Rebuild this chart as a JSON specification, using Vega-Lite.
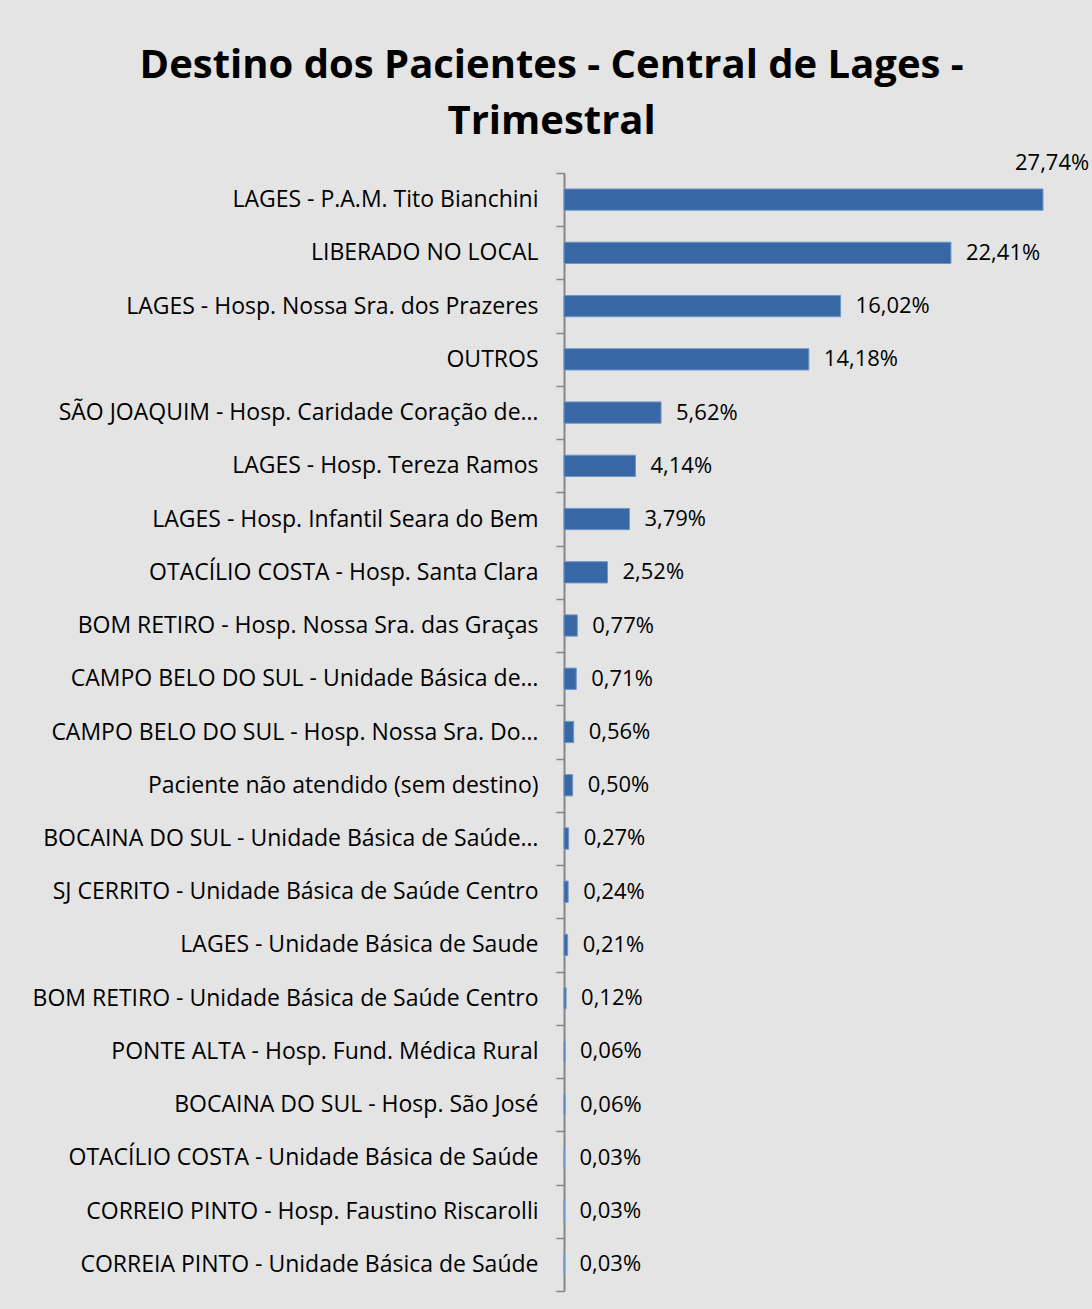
{
  "$schema": "https://vega.github.io/schema/vega-lite/v6.json",
  "width": 518,
  "height": 1118,
  "autosize": {"type": "none"},
  "padding": {"left": 564, "top": 173, "right": 10, "bottom": 18},
  "background": "#e4e4e4",
  "config": {
    "locale": {"number": {"decimal": ",", "thousands": ".", "grouping": [3], "currency": ["R$", ""]}},
    "view": {"stroke": null},
    "font": "Open Sans"
  },
  "title": {
    "text": ["Destino dos Pacientes - Central de Lages -", "Trimestral"],
    "fontSize": 40,
    "fontWeight": "bold",
    "font": "Open Sans",
    "color": "#000000",
    "lineHeight": 56,
    "anchor": "middle",
    "frame": "bounds",
    "offset": 10,
    "dx": -9
  },
  "data": {
    "values": [
      {"destino": "LAGES - P.A.M. Tito Bianchini", "pct": 0.2774},
      {"destino": "LIBERADO NO LOCAL", "pct": 0.2241},
      {"destino": "LAGES - Hosp. Nossa Sra. dos Prazeres", "pct": 0.1602},
      {"destino": "OUTROS", "pct": 0.1418},
      {"destino": "SÃO JOAQUIM - Hosp. Caridade Coração de…", "pct": 0.0562},
      {"destino": "LAGES - Hosp.  Tereza Ramos", "pct": 0.0414},
      {"destino": "LAGES - Hosp. Infantil Seara do Bem", "pct": 0.0379},
      {"destino": "OTACÍLIO COSTA - Hosp. Santa Clara", "pct": 0.0252},
      {"destino": "BOM RETIRO - Hosp. Nossa Sra. das Graças", "pct": 0.0077},
      {"destino": "CAMPO BELO DO SUL - Unidade Básica de…", "pct": 0.0071},
      {"destino": "CAMPO BELO DO SUL - Hosp. Nossa Sra. Do…", "pct": 0.0056},
      {"destino": "Paciente não atendido (sem destino)", "pct": 0.0050},
      {"destino": "BOCAINA DO SUL - Unidade Básica de Saúde…", "pct": 0.0027},
      {"destino": "SJ CERRITO - Unidade Básica de Saúde Centro", "pct": 0.0024},
      {"destino": "LAGES - Unidade Básica de Saude", "pct": 0.0021},
      {"destino": "BOM RETIRO - Unidade Básica de Saúde Centro", "pct": 0.0012},
      {"destino": "PONTE ALTA - Hosp. Fund. Médica Rural", "pct": 0.0006},
      {"destino": "BOCAINA DO SUL - Hosp. São José", "pct": 0.0006},
      {"destino": "OTACÍLIO COSTA - Unidade Básica de Saúde", "pct": 0.0003},
      {"destino": "CORREIO PINTO - Hosp. Faustino Riscarolli", "pct": 0.0003},
      {"destino": "CORREIA PINTO - Unidade Básica de Saúde", "pct": 0.0003}
    ]
  },
  "encoding": {
    "y": {
      "field": "destino",
      "type": "nominal",
      "sort": null,
      "scale": {"paddingInner": 0, "paddingOuter": 0},
      "axis": {
        "title": null,
        "domainColor": "#868686",
        "domainWidth": 2,
        "tickColor": "#868686",
        "tickWidth": 1.5,
        "tickSize": 8,
        "tickBand": "extent",
        "labelFont": "Open Sans",
        "labelFontSize": 23,
        "labelColor": "#000000",
        "labelPadding": 18,
        "labelLimit": 700
      }
    }
  },
  "layer": [
    {
      "mark": {"type": "bar", "color": "#3767a4", "stroke": "#7096c8", "strokeWidth": 1, "height": {"band": 0.4}},
      "encoding": {
        "x": {"field": "pct", "type": "quantitative", "scale": {"domain": [0, 0.3]}, "axis": null}
      }
    },
    {
      "transform": [{"filter": "datum.pct < 0.25"}],
      "mark": {"type": "text", "align": "left", "baseline": "middle", "dx": 15, "fontSize": 22, "font": "Open Sans", "color": "#000000"},
      "encoding": {
        "x": {"field": "pct", "type": "quantitative"},
        "text": {"field": "pct", "type": "quantitative", "format": ".2%"}
      }
    },
    {
      "transform": [{"filter": "datum.pct >= 0.25"}],
      "mark": {"type": "text", "align": "left", "baseline": "middle", "dx": -28, "dy": -37, "fontSize": 22, "font": "Open Sans", "color": "#000000"},
      "encoding": {
        "x": {"field": "pct", "type": "quantitative"},
        "text": {"field": "pct", "type": "quantitative", "format": ".2%"}
      }
    }
  ]
}
